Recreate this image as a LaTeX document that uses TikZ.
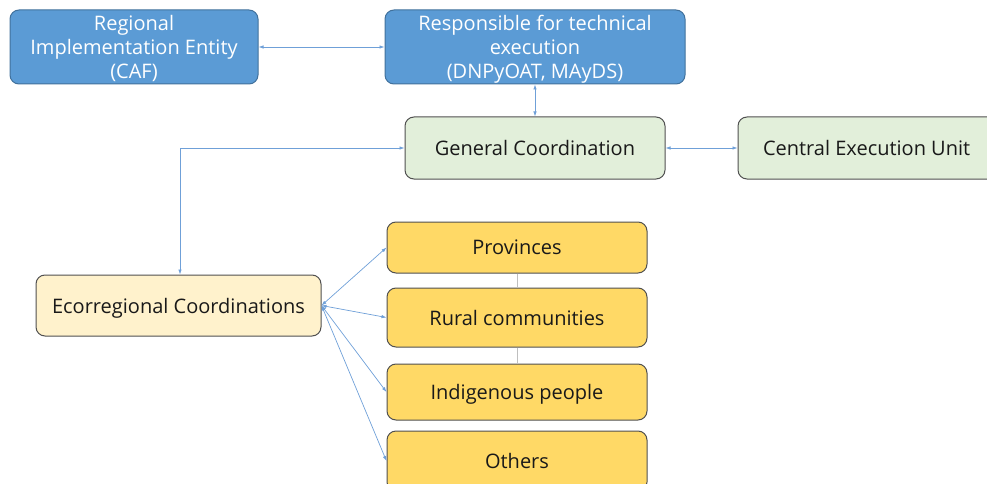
\documentclass[tikz,border=0pt]{standalone}
\usepackage{fontspec}
\setmainfont{Open Sans}
\usetikzlibrary{arrows.meta}
\definecolor{bluefill}{HTML}{5B9BD5}
\definecolor{blueedge}{HTML}{41719C}
\definecolor{greenfill}{HTML}{E2EFDA}
\definecolor{creamfill}{HTML}{FFF2CC}
\definecolor{yellowfill}{HTML}{FFD966}
\definecolor{edgegray}{HTML}{505050}
\definecolor{linkblue}{HTML}{6FA0D8}
\tikzset{
  box/.style={rounded corners=9pt, line width=1pt, inner sep=0pt, align=center, text depth=0pt, font=\fontsize{20}{24}\selectfont},
  bluebox/.style={box, fill=bluefill, draw=blueedge, text=white},
  greenbox/.style={box, fill=greenfill, draw=edgegray, text=black!90},
  creambox/.style={box, fill=creamfill, draw=edgegray, text=black!90},
  yellowbox/.style={box, fill=yellowfill, draw=edgegray, text=black!90, minimum width=260pt},
  link/.style={draw=linkblue, line width=0.7pt, {Latex[length=5pt,width=3.5pt]}-{Latex[length=5pt,width=3.5pt]}},
  plainlink/.style={draw=black!25, line width=0.7pt}
}
\begin{document}
\begin{tikzpicture}[x=1pt,y=-1pt]
\useasboundingbox (0,0) rectangle (987,484);
\clip (0,0) rectangle (987,484);
\node[bluebox, minimum width=248pt, minimum height=74pt] (caf) at (134,47) {Regional\\Implementation Entity\\(CAF)};
\node[bluebox, minimum width=300pt, minimum height=74pt] (resp) at (535,47) {Responsible for technical\\execution\\(DNPyOAT, MAyDS)};
\node[greenbox, minimum width=260pt, minimum height=62pt] (gen) at (535,148) {General Coordination};
\node[greenbox, minimum width=262pt, minimum height=62pt] (ceu) at (869,148) {\makebox[212pt][l]{Central Execution Unit}};
\node[creambox, minimum width=285pt, minimum height=61pt] (eco) at (178.5,305.5) {Ecorregional Coordinations};
\node[yellowbox, minimum height=51pt] (prov) at (517,247.5) {Provinces};
\node[yellowbox, minimum height=59pt] (rural) at (517,317.5) {Rural communities};
\node[yellowbox, minimum height=56pt] (ind) at (517,392) {Indigenous people};
\node[yellowbox, minimum height=60pt] (oth) at (517,461) {Others};
\coordinate (bend) at (180,148);
\draw[link] (caf.east) -- (resp.west);
\draw[link] (resp.south) -- (gen.north);
\draw[link] (gen.east) -- (ceu.west);
\draw[link] (gen.west) -- (bend) -- (eco.north -| bend);
\draw[plainlink] (prov.south) -- (rural.north);
\draw[plainlink] (rural.south) -- (ind.north);
\draw[link] (eco.east) -- (prov.west);
\draw[link] (eco.east) -- (rural.west);
\draw[link] (eco.east) -- (ind.west);
\draw[link] (eco.east) -- (oth.west);
\end{tikzpicture}
\end{document}
